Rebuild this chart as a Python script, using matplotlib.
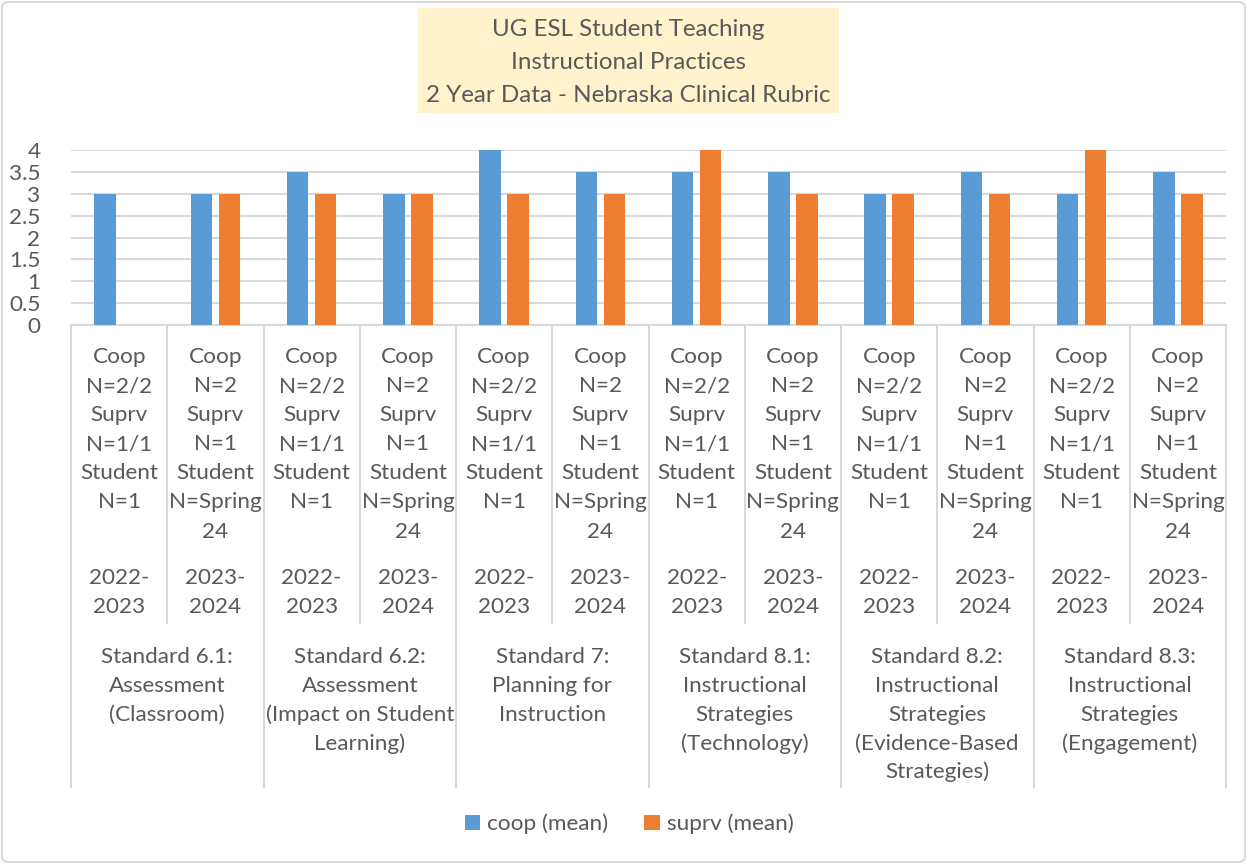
import matplotlib
matplotlib.use("Agg")
import matplotlib.pyplot as plt
import matplotlib.transforms as mtransforms
from matplotlib.patches import Rectangle, FancyBboxPatch, Patch
import numpy as np

plt.rcParams['font.family'] = ['Lato', 'DejaVu Sans']

# ---- data ----
standards = ["Standard 6.1:\nAssessment\n(Classroom)",
             "Standard 6.2:\nAssessment\n(Impact on Student\nLearning)",
             "Standard 7:\nPlanning for\nInstruction",
             "Standard 8.1:\nInstructional\nStrategies\n(Technology)",
             "Standard 8.2:\nInstructional\nStrategies\n(Evidence-Based\nStrategies)",
             "Standard 8.3:\nInstructional\nStrategies\n(Engagement)"]
years = ["2022-\n2023", "2023-\n2024"]
sample_labels = ["Coop\nN=2/2\nSuprv\nN=1/1\nStudent\nN=1",
                 "Coop\nN=2\nSuprv\nN=1\nStudent\nN=Spring\n24"]
coop_mean = [3, 3, 3.5, 3, 4, 3.5, 3.5, 3.5, 3, 3.5, 3, 3.5]
suprv_mean = [0, 3, 3, 3, 3, 3, 4, 3, 3, 3, 4, 3]
series_names = ["coop (mean)", "suprv (mean)"]
yticks = [0, 0.5, 1, 1.5, 2, 2.5, 3, 3.5, 4]

BLUE = "#5B9BD5"
ORANGE = "#ED7D31"
GRID = "#D9D9D9"
TXT = "#595959"
FS = 16.2

W, H = 1249, 864
fig = plt.figure(figsize=(W / 100, H / 100), dpi=100)

def fy(ypix):
    return 1 - ypix / H

def fx(xpix):
    return xpix / W

# outer border
fig.patches.append(FancyBboxPatch((fx(2), fy(862)), fx(1245) - fx(2), fy(2) - fy(862),
                                  boxstyle="round,pad=0,rounding_size=0.006",
                                  transform=fig.transFigure, facecolor="white",
                                  edgecolor=GRID, linewidth=1.5, zorder=-5))

x0, x1, ytop, ybot = 71, 1226, 150, 325
ax = fig.add_axes([fx(x0), fy(ybot), fx(x1) - fx(x0), fy(ytop) - fy(ybot)])
ax.set_facecolor("none")

n = len(coop_mean)
x = np.arange(n)
bw = 0.225
off = 0.145
ax.bar(x - off, coop_mean, bw, color=BLUE, zorder=3)
ax.bar(x + off, suprv_mean, bw, color=ORANGE, zorder=3)

ax.set_xlim(-0.5, n - 0.5)
ax.set_ylim(0, 4)
ax.set_yticks(yticks)
ax.set_yticklabels([f"{t:g}" for t in yticks], fontsize=FS, color=TXT)
ax.tick_params(axis='y', length=0, pad=22)
ax.set_xticks([])
for s in ["top", "right", "left"]:
    ax.spines[s].set_visible(False)
ax.spines["bottom"].set_color(GRID)
ax.spines["bottom"].set_linewidth(1.5)
ax.yaxis.grid(True, color=GRID, linewidth=1.5, zorder=0)
ax.set_axisbelow(True)

blend = mtransforms.blended_transform_factory(ax.transData, fig.transFigure)

# category separators
for b in np.arange(-0.5, n, 1.0):
    k = int(round(b + 0.5))
    end = 787 if k % 2 == 0 else 623
    ax.plot([b, b], [fy(ybot), fy(end)], color=GRID, lw=1.5, transform=blend,
            clip_on=False)

line_h = 29.1
for i in range(n):
    lab = sample_labels[i % 2].split("\n")
    for j, t in enumerate(lab):
        ax.text(i, fy(357 + j * line_h), t, transform=blend, ha="center", va="center",
                fontsize=FS, color=TXT)
    yr = years[i % 2].split("\n")
    for j, t in enumerate(yr):
        ax.text(i, fy(578 + j * line_h), t, transform=blend, ha="center", va="center",
                fontsize=FS, color=TXT)

for g, st in enumerate(standards):
    for j, t in enumerate(st.split("\n")):
        ax.text(2 * g + 0.5, fy(657 + j * 28.8), t, transform=blend, ha="center",
                va="center", fontsize=FS, color=TXT)

# title box
fig.patches.append(Rectangle((fx(418), fy(113)), fx(839) - fx(418), fy(8) - fy(113),
                             transform=fig.transFigure, facecolor="#FFF2CC",
                             edgecolor="none", zorder=1))
title_lines = ["UG ESL Student Teaching", "Instructional Practices",
               "2 Year Data - Nebraska Clinical Rubric"]
for j, t in enumerate(title_lines):
    fig.text(fx(628.5), fy(30 + j * 32.5), t, ha="center", va="center",
             fontsize=17.4, color=TXT, zorder=2)

handles = [Patch(facecolor=BLUE, edgecolor="none"), Patch(facecolor=ORANGE, edgecolor="none")]
fig.legend(handles, series_names, loc="center", bbox_to_anchor=(fx(629), fy(824)),
           ncol=2, frameon=False, fontsize=FS, labelcolor=TXT,
           handlelength=0.7, handleheight=0.7, handletextpad=0.3, columnspacing=1.6)

fig.savefig("out.png", dpi=100)
